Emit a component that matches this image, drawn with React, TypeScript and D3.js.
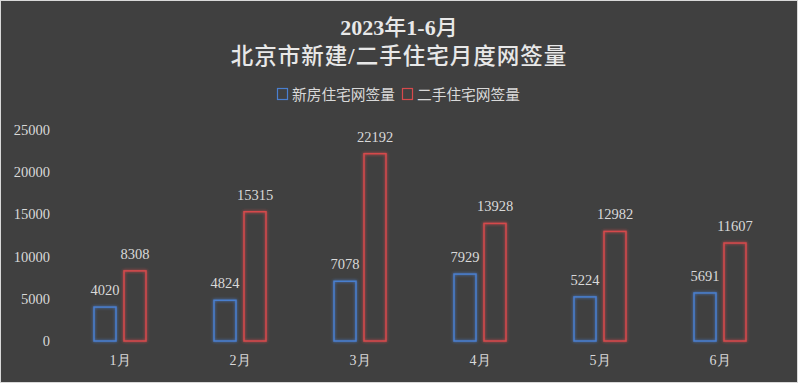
import React from "react";
import * as d3 from "d3";

const months = ["1月", "2月", "3月", "4月", "5月", "6月"];
const newHomes = [4020, 4824, 7078, 7929, 5224, 5691];
const resale = [8308, 15315, 22192, 13928, 12982, 11607];
const yTicks = [0, 5000, 10000, 15000, 20000, 25000];
const seriesNames = ["新房住宅网签量", "二手住宅网签量"];
const titleLines = ["2023年1-6月", "北京市新建/二手住宅月度网签量"];

const W = 798;
const H = 383;
const BLUE = "#4a7fcf";
const RED = "#d64a4c";
const TEXT = "#d9d9d9";
const SERIF = "'Liberation Serif', 'DejaVu Serif', serif";
const CJK = "'Noto Sans CJK SC', 'Noto Sans', sans-serif";

function splitRuns(s: string) {
  const runs: { t: string; cjk: boolean }[] = [];
  for (const ch of s) {
    const cjk = /[\u3000-\u9fff\uff00-\uffef]/.test(ch);
    const last = runs[runs.length - 1];
    if (last && last.cjk === cjk) last.t += ch;
    else runs.push({ t: ch, cjk });
  }
  return runs;
}

export default function App() {
  const x = d3.scaleBand<string>().domain(months).range([60, 780]).padding(0);
  const y = d3.scaleLinear().domain([0, 25000]).range([341, 130]);
  const barW = 22;
  const gap = 8;

  const series = [
    { values: newHomes, color: BLUE, filter: "glowB", offset: -gap / 2 - barW },
    { values: resale, color: RED, filter: "glowR", offset: gap / 2 },
  ];

  return (
    <svg width={W} height={H} style={{ position: "absolute", left: 0, top: 0 }}>
      <defs>
        {["glowB", "glowR"].map((id) => (
          <filter key={id} id={id} x="-50%" y="-50%" width="200%" height="200%">
            <feGaussianBlur in="SourceGraphic" stdDeviation="1.6" result="b" />
            <feMerge>
              <feMergeNode in="b" />
              <feMergeNode in="SourceGraphic" />
            </feMerge>
          </filter>
        ))}
      </defs>
      <rect x={0.5} y={0.5} width={W - 1} height={H - 1} fill="#404040" stroke="#d9d9d9" strokeWidth={1} />

      {titleLines.map((t, i) => (
        <text
          key={t}
          x={W / 2}
          y={i === 0 ? 35 : 64}
          textAnchor="middle"
          fill="#e8e8e8"
          fontSize={i === 0 ? 22 : 22.5}
          letterSpacing={i === 0 ? 0 : 1}
        >
          {splitRuns(t).map((r, k) => (
            <tspan
              key={k}
              fontFamily={r.cjk ? CJK : SERIF}
              fontWeight={r.cjk ? 500 : "bold"}
            >
              {r.t}
            </tspan>
          ))}
        </text>
      ))}

      {/* legend */}
      <g fontFamily={CJK} fontSize={14.7} fill={TEXT}>
        <rect x={277.5} y={88.5} width={10} height={11} fill="none" stroke={BLUE} strokeWidth={1.2} />
        <text x={292} y={100}>{seriesNames[0]}</text>
        <rect x={402.5} y={88.5} width={10} height={11} fill="none" stroke={RED} strokeWidth={1.2} />
        <text x={417} y={100}>{seriesNames[1]}</text>
      </g>

      {/* y axis labels */}
      {yTicks.map((t) => (
        <text key={t} x={50} y={y(t) + 5} textAnchor="end" fill={TEXT} fontFamily={SERIF} fontSize={14.5}>
          {t}
        </text>
      ))}

      {/* x labels */}
      {months.map((m) => (
        <text
          key={m}
          x={(x(m) as number) + x.bandwidth() / 2}
          y={365}
          textAnchor="middle"
          fill={TEXT}
          fontFamily={SERIF}
          fontSize={14}
        >
          {m}
        </text>
      ))}

      {series.map((s, si) =>
        s.values.map((v, i) => {
          const cx = (x(months[i]) as number) + x.bandwidth() / 2;
          const bx = cx + s.offset;
          return (
            <g key={`${si}-${i}`}>
              <rect
                x={bx}
                y={y(v)}
                width={barW}
                height={y(0) - y(v)}
                fill="none"
                stroke={s.color}
                strokeWidth={1.5}
                filter={`url(#${s.filter})`}
              />
              <text
                x={bx + barW / 2}
                y={y(v) - 12}
                textAnchor="middle"
                fill={TEXT}
                fontFamily={SERIF}
                fontSize={14.5}
              >
                {v}
              </text>
            </g>
          );
        })
      )}
    </svg>
  );
}
